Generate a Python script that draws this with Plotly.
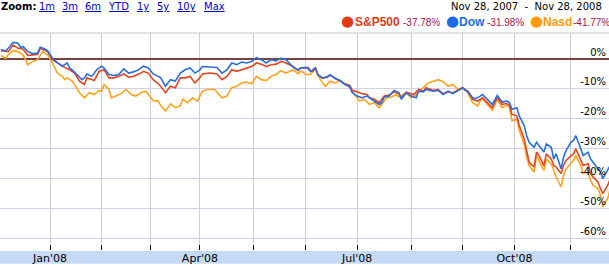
import pandas as pd
import plotly.graph_objects as go

# ---------------- data ----------------
series_names = ["S&P500", "Dow", "Nasd"]
series_changes = ["-37.78%", "-31.98%", "-41.77%"]
date_range_text = "Nov 28, 2007\u00a0\u00a0-\u00a0\u00a0Nov 28, 2008"
zoom_links = ["1m", "3m", "6m", "YTD", "1y", "5y", "10y", "Max"]
y_ticks = [0, -10, -20, -30, -40, -50, -60]
y_tick_labels = ["0%", "-10%", "-20%", "-30%", "-40%", "-50%", "-60%"]
holidays = ["2007-12-25", "2008-01-01", "2008-01-21", "2008-02-18", "2008-03-21",
            "2008-05-26", "2008-07-04", "2008-09-01", "2008-11-27"]

# trading-day index (0 = Nov 28, 2007) and % change
dow_day = [
    3, 5, 6, 8, 10, 11, 12, 14, 16, 18,
    19, 20, 22, 24, 26, 28, 30, 31, 32, 34,
    36, 37, 38, 40, 42, 44, 45, 47, 49, 51,
    53, 55, 57, 59, 61, 63, 65, 67, 68, 70,
    72, 74, 76, 78, 80, 82, 84, 85, 88, 91,
    93, 95, 97, 99, 101, 103, 105, 107, 109, 111,
    113, 115, 117, 119, 122, 124, 125, 127, 128, 129,
    131, 132, 134, 136, 137, 139, 141, 143, 145, 146,
    148, 150, 152, 153, 155, 157, 158, 159, 161, 163,
    165, 166, 168, 170, 172, 173, 175, 176, 179, 181,
    183, 185, 187, 189, 191, 192, 193, 195, 196, 198,
    199, 201, 203, 205, 207, 209, 210, 211, 213, 214,
    216, 217, 218, 220, 221, 222, 224, 225, 227, 228,
    229, 231, 232, 233, 235, 236, 237, 239, 240, 242,
    243, 244, 246, 247, 248, 250, 251]
dow_pct = [
    3.1, 2.8, 3.6, 5.6, 5.3, 3.9, 4.2, 2.5, 1.8, 2.0,
    4.0, 3.7, 2.8, 0.3, -1.3, -2.4, -1.3, -3.0, -3.6, -5.2,
    -6.9, -6.3, -5.0, -5.8, -3.6, -2.4, -3.0, -5.2, -5.5, -5.2,
    -3.3, -4.7, -4.3, -3.6, -2.4, -3.0, -5.0, -5.8, -6.2, -9.1,
    -6.9, -7.4, -4.7, -3.6, -3.0, -4.7, -3.6, -2.5, -2.7, -2.8,
    -4.7, -3.6, -1.3, -1.9, -1.0, -1.3, -0.8, 0.5, -0.2, -1.3,
    -0.2, -0.6, 0.3, -0.2, -2.8, -3.6, -3.0, -2.8, -3.2, -4.2,
    -2.9, -5.2, -6.3, -6.1, -5.2, -6.5, -7.2, -8.5, -9.1, -11.3,
    -12.4, -13.0, -12.4, -13.0, -13.9, -15.2, -14.6, -12.7, -12.4, -10.5,
    -11.3, -13.5, -11.3, -12.4, -13.0, -10.8, -11.0, -10.2, -10.8, -10.5,
    -11.9, -10.8, -11.6, -10.5, -9.6, -10.5, -10.8, -13.0, -13.3, -12.5,
    -11.9, -13.5, -15.2, -12.2, -14.4, -14.1, -14.6, -16.8, -16.3, -19.1,
    -22.4, -25.7, -27.9, -29.6, -27.9, -29.0, -31.2, -28.5, -29.6, -33.5,
    -31.8, -36.8, -32.9, -30.7, -27.9, -27.4, -25.7, -30.1, -32.3, -31.2,
    -33.5, -34.6, -36.8, -37.9, -40.1, -36.8, -35.7]

sp_day = [
    3, 5, 6, 8, 10, 12, 14, 16, 18, 19,
    22, 24, 27, 29, 31, 33, 35, 37, 38, 41,
    43, 45, 47, 49, 51, 53, 55, 57, 60, 61,
    63, 65, 67, 68, 70, 72, 74, 76, 78, 80,
    82, 84, 85, 88, 91, 93, 95, 97, 99, 101,
    103, 105, 107, 109, 111, 113, 115, 117, 119, 122,
    124, 125, 127, 128, 129, 130, 131, 132, 134, 137,
    139, 141, 143, 145, 146, 148, 150, 152, 153, 155,
    157, 159, 161, 163, 165, 166, 168, 171, 173, 175,
    176, 179, 181, 183, 185, 187, 189, 191, 193, 195,
    197, 198, 199, 201, 203, 205, 207, 209, 210, 211,
    213, 214, 216, 217, 218, 220, 221, 222, 224, 225,
    227, 228, 229, 231, 232, 233, 235, 236, 237, 239,
    240, 242, 243, 244, 246, 247, 248, 250, 251]
sp_pct = [
    2.8, 2.5, 2.5, 4.7, 3.6, 3.4, 1.2, 1.4, 1.6, 3.6,
    2.5, -0.2, -1.9, -2.8, -3.6, -4.7, -7.4, -8.5, -6.3, -7.2,
    -4.1, -3.6, -6.3, -6.3, -5.8, -5.0, -6.1, -5.8, -4.7, -4.1,
    -4.7, -6.9, -8.2, -9.1, -11.3, -9.1, -9.6, -6.3, -6.3, -5.8,
    -8.0, -6.3, -5.0, -4.7, -5.0, -6.9, -5.8, -3.6, -4.1, -3.6,
    -3.0, -2.5, -1.3, -1.7, -2.5, -1.9, -1.7, -0.8, -1.3, -2.5,
    -3.9, -2.9, -3.0, -2.8, -3.9, -4.1, -2.9, -5.4, -6.5, -5.4,
    -6.3, -7.2, -8.3, -8.8, -10.5, -11.0, -11.6, -11.9, -13.0, -13.5,
    -14.6, -12.4, -12.1, -11.0, -11.6, -13.0, -11.1, -11.9, -10.2, -10.8,
    -9.6, -10.5, -10.2, -11.6, -11.0, -11.3, -10.5, -9.6, -10.8, -13.5,
    -14.1, -13.5, -13.0, -14.6, -16.3, -13.0, -15.2, -14.9, -15.5, -18.5,
    -19.1, -22.4, -26.8, -30.7, -34.6, -36.2, -31.2, -32.3, -35.7, -31.8,
    -33.5, -35.7, -36.2, -38.4, -35.7, -34.0, -32.3, -31.8, -30.1, -33.5,
    -35.7, -35.1, -38.4, -39.5, -41.2, -43.4, -45.1, -42.3, -40.1]

nasd_day = [
    3, 5, 6, 8, 10, 12, 14, 16, 18, 20,
    22, 24, 26, 28, 29, 30, 32, 33, 35, 37,
    39, 41, 43, 44, 45, 47, 48, 50, 52, 54,
    56, 58, 60, 62, 63, 65, 67, 68, 70, 72,
    74, 76, 77, 79, 81, 83, 85, 87, 90, 93,
    95, 97, 99, 101, 103, 105, 107, 109, 111, 113,
    115, 117, 119, 122, 124, 125, 126, 127, 129, 130,
    131, 133, 135, 137, 139, 141, 143, 145, 147, 149,
    151, 153, 155, 157, 158, 160, 162, 164, 165, 168,
    170, 172, 173, 175, 177, 179, 181, 183, 185, 187,
    189, 191, 193, 195, 197, 198, 199, 201, 203, 205,
    207, 209, 210, 211, 213, 214, 216, 217, 218, 220,
    221, 222, 224, 225, 227, 228, 229, 231, 232, 233,
    235, 236, 237, 239, 240, 242, 243, 244, 246, 247,
    248, 250, 251]
nasd_pct = [
    1.2, 0.3, 1.4, 2.8, 2.5, 1.4, -1.9, -0.8, -0.2, 2.5,
    1.4, -1.3, -4.7, -5.8, -6.9, -6.3, -7.4, -8.5, -11.3, -13.0,
    -11.3, -11.9, -10.5, -10.8, -8.5, -10.2, -13.0, -12.4, -11.6, -10.2,
    -11.9, -12.4, -11.3, -10.8, -11.9, -13.9, -14.1, -15.5, -17.4, -15.0,
    -16.3, -15.7, -13.5, -14.6, -13.0, -14.1, -10.8, -10.2, -10.2, -13.0,
    -12.4, -9.6, -9.1, -8.0, -7.7, -8.3, -5.8, -6.9, -7.2, -5.8,
    -5.2, -3.9, -4.7, -3.6, -5.0, -4.1, -4.4, -5.2, -5.2, -4.2,
    -3.3, -6.9, -9.1, -7.4, -8.0, -7.2, -8.5, -9.6, -11.9, -14.1,
    -13.5, -15.2, -14.6, -16.3, -15.2, -13.0, -12.7, -11.9, -12.7, -11.3,
    -13.0, -11.9, -11.0, -9.6, -8.0, -7.4, -6.9, -7.6, -9.1, -8.5,
    -10.2, -9.6, -11.3, -14.6, -15.7, -14.1, -13.3, -15.2, -17.1, -13.5,
    -16.3, -15.5, -16.3, -20.7, -20.2, -24.0, -28.5, -32.9, -35.7, -37.9,
    -32.3, -34.0, -37.3, -33.5, -35.1, -37.3, -39.5, -42.9, -39.0, -36.8,
    -35.1, -34.0, -32.3, -35.7, -38.4, -37.9, -40.6, -42.3, -43.4, -45.6,
    -49.5, -46.7, -43.4]

# ---------------- styling ----------------
LINE_COLORS = {"S&P500": "#e3461f", "Dow": "#2a6ddf", "Nasd": "#ffa21c"}
LABEL_COLORS = {"S&P500": "#e23c17", "Dow": "#1b6ae6", "Nasd": "#ff9a00"}
PCT_COLOR = "#a3124a"
FONT = "DejaVu Sans"
LEG_FONT = "Liberation Sans"

W, H = 609, 265
M_T, M_B = 33, 13
PLOT_H = H - M_T - M_B
X_RANGE = [2.645, 250.5]
Y_RANGE = [-64.02, 8.74]

# trading calendar -> month-start positions for gridlines / axis ticks
cal = pd.bdate_range("2007-11-28", "2008-11-28", freq="C", holidays=holidays)
pos = pd.Series(range(len(cal)), index=cal)
firsts = pos.groupby([cal.year, cal.month]).first()
month_ticks, month_text, grid_ticks = [], [], []
for (yr, mo), idx in firsts.items():
    if idx == 0:
        continue
    d = cal[idx]
    month_ticks.append(int(idx))
    month_text.append(d.strftime("%b'%y") if mo in (1, 4, 7, 10) else "")
    if yr == 2008:
        grid_ticks.append(int(idx))

fig = go.Figure()
for name, xs, ys, xa in [("Nasd", nasd_day, nasd_pct, "x"),
                         ("S&P500", sp_day, sp_pct, "x"),
                         ("Dow", dow_day, dow_pct, "x2")]:
    fig.add_trace(go.Scatter(x=xs, y=ys, mode="lines", name=name, xaxis=xa, yaxis="y",
                             line=dict(color=LINE_COLORS[name], width=1.6),
                             hoverinfo="skip"))


def px_x(x):
    return x / W


def px_y(y):
    return (H - M_B - y) / PLOT_H


annotations = []


def add_text(text, x, y, size, color, family=FONT, xanchor="left"):
    annotations.append(dict(text=text, x=px_x(x), y=px_y(y), xref="paper", yref="paper",
                            xanchor=xanchor, yanchor="middle", showarrow=False,
                            borderpad=0, font=dict(family=family, size=size, color=color)))


# top-left zoom links
add_text("<b>Zoom:</b>", 0, 6, 10, "#000000")
for txt, x in zip(zoom_links, [38, 61, 84, 107, 136, 156, 176, 203]):
    add_text("<u>%s</u>" % txt, x, 6, 10, "#0000cc")

# top-right date range
add_text(date_range_text, 603, 6, 10, "#000000", xanchor="right")

# legend row
for name, chg, dot_x, name_x, chg_x in zip(series_names, series_changes,
                                           [347, 452, 536], [354, 458, 542], [402, 486, 572]):
    add_text("\u25cf", dot_x, 21, 15, LABEL_COLORS[name], xanchor="center")
    add_text("<b>%s</b>" % name, name_x, 21.5, 12, LABEL_COLORS[name], family=LEG_FONT)
    add_text(chg, chg_x, 22.5, 10, PCT_COLOR, family=LEG_FONT)

shapes = [
    # bottom date band
    dict(type="rect", xref="paper", yref="paper", x0=0, x1=1,
         y0=-(M_B + 1) / PLOT_H, y1=-1 / PLOT_H, fillcolor="#c6daf6", line=dict(width=0), layer="below"),
    # top border
    dict(type="line", xref="paper", yref="paper", x0=0, x1=1, y0=1, y1=1,
         line=dict(color="#c4c4c4", width=1)),
]

fig.update_layout(
    width=W, height=H,
    margin=dict(l=0, r=0, t=M_T, b=M_B, pad=0),
    paper_bgcolor="white", plot_bgcolor="white",
    showlegend=False,
    annotations=annotations,
    shapes=shapes,
    xaxis=dict(range=X_RANGE, tickmode="array", tickvals=grid_ticks, showticklabels=False,
               ticks="", showgrid=True, gridcolor="#cdcdcd", gridwidth=1,
               zeroline=False, showline=False, fixedrange=True),
    xaxis2=dict(overlaying="x", anchor="y", side="bottom", range=X_RANGE,
                tickmode="array", tickvals=month_ticks, ticktext=month_text,
                ticks="inside", ticklen=5, tickwidth=1, tickcolor="#000000",
                showgrid=False, zeroline=False, showline=False, fixedrange=True,
                tickfont=dict(family=FONT, size=11, color="#000000")),
    yaxis=dict(range=Y_RANGE, side="right", tickmode="array", tickvals=y_ticks,
               ticktext=y_tick_labels, ticklabelposition="inside top", ticks="",
               showgrid=True, gridcolor="#cfcfee", gridwidth=1,
               zeroline=True, zerolinecolor="#7a4141", zerolinewidth=1.5,
               showline=False, fixedrange=True,
               tickfont=dict(family=FONT, size=10, color="#000000")),
)

fig.write_html("out.html")
